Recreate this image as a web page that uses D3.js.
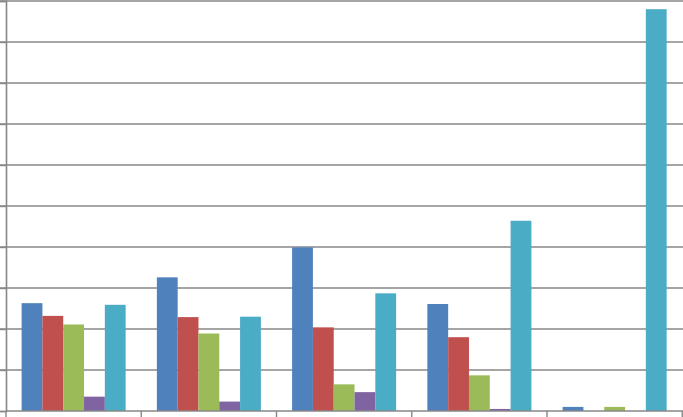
<!DOCTYPE html>
<html>
<head>
<meta charset="utf-8">
<script src="https://cdn.jsdelivr.net/npm/d3@7"></script>
<style>
html,body{margin:0;padding:0;background:#fff;}
svg{display:block;}
</style>
</head>
<body>
<svg id="chart" width="683" height="417"></svg>
<script>
const categories = ["C1", "C2", "C3", "C4", "C5"];
const seriesNames = ["S1", "S2", "S3", "S4", "S5"];
const s1 = [2.63, 3.26, 3.99, 2.61, 0.10];
const s2 = [2.32, 2.29, 2.04, 1.80, 0.00];
const s3 = [2.11, 1.89, 0.65, 0.87, 0.10];
const s4 = [0.35, 0.23, 0.46, 0.05, 0.00];
const s5 = [2.59, 2.30, 2.87, 4.64, 9.80];
const yTicks = [0,1,2,3,4,5,6,7,8,9,10];
const colors = ["#4F81BD", "#C0504D", "#9BBB59", "#8064A2", "#4BACC6"];

(function(){
const series = [s1, s2, s3, s4, s5];
const svg = d3.select("#chart");
const mLeft = 6, mRight = 682.25, mTop = 1, mBottom = 411;

const x0 = d3.scaleBand().domain(categories).range([mLeft, mRight]).padding(0);
const x1 = d3.scaleBand().domain(seriesNames).range([0, x0.bandwidth()]).paddingInner(0).paddingOuter(0.75);
const y = d3.scaleLinear().domain([0, 10]).range([mBottom, mTop]);

const gridColor = "#878787";

svg.append("g")
  .selectAll("line")
  .data(yTicks.filter(d => d > 0))
  .join("line")
  .attr("x1", 0).attr("x2", 683)
  .attr("y1", d => y(d)).attr("y2", d => y(d))
  .attr("stroke", gridColor).attr("stroke-width", 1.4);

const g = svg.append("g");
categories.forEach((c, ci) => {
  series.forEach((s, si) => {
    const v = s[ci];
    if (v <= 0) return;
    g.append("rect")
      .attr("x", x0(c) + x1(seriesNames[si]))
      .attr("y", y(v))
      .attr("width", x1.bandwidth())
      .attr("height", y(0) - y(v))
      .attr("fill", colors[si]);
  });
});

const yAxis = d3.axisLeft(y).tickValues(yTicks).tickSize(6).tickFormat("");
const ya = svg.append("g").attr("transform", `translate(${mLeft},0)`).call(yAxis);
ya.selectAll("line").attr("stroke", gridColor).attr("stroke-width", 1.4);
ya.select(".domain").attr("stroke", gridColor).attr("stroke-width", 1.6);

const bounds = categories.map(c => x0(c)).concat([mRight]);
const xa = svg.append("g");
xa.append("line").attr("x1", mLeft).attr("x2", 683).attr("y1", y(0)).attr("y2", y(0))
  .attr("stroke", gridColor).attr("stroke-width", 1.6);
xa.selectAll("line.tick").data(bounds).join("line").attr("class", "tick")
  .attr("x1", d => d).attr("x2", d => d).attr("y1", y(0)).attr("y2", y(0) + 6)
  .attr("stroke", gridColor).attr("stroke-width", 1.4);
})();
</script>
</body>
</html>
